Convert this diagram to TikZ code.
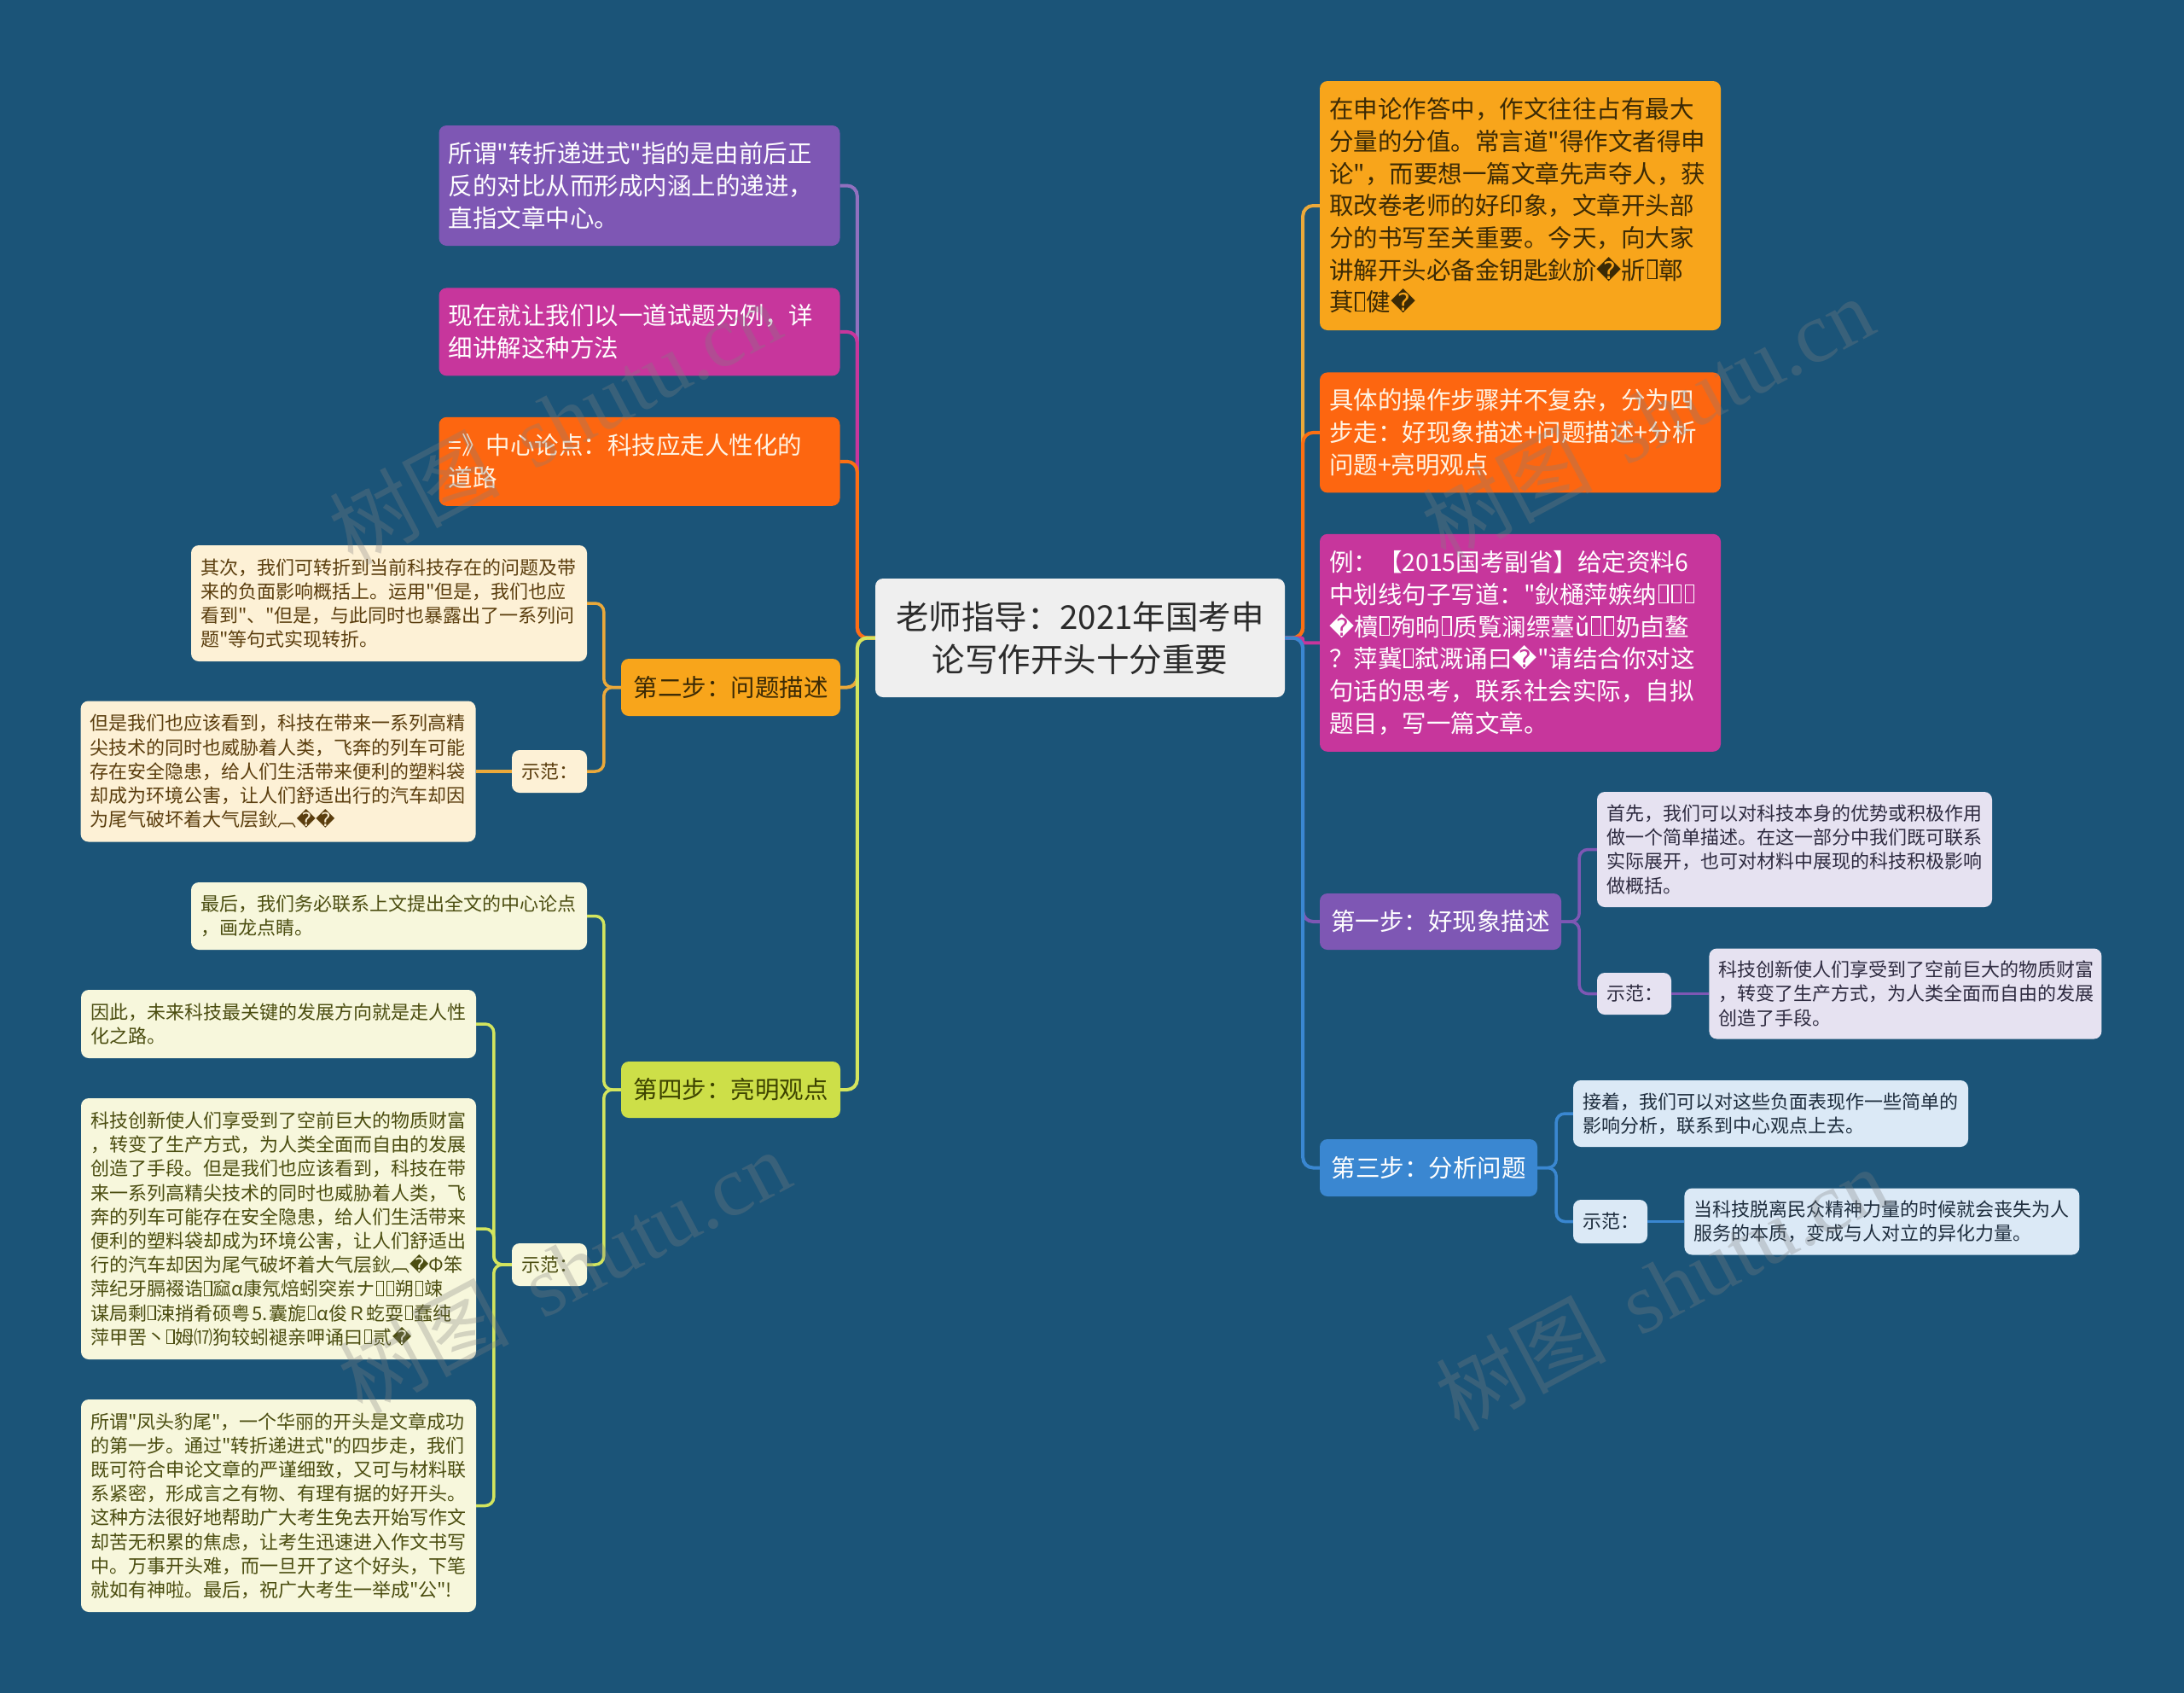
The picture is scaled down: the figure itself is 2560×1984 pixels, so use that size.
\documentclass[tikz,border=0pt]{standalone}
\usepackage{fontspec}
\setmainfont{Noto Sans CJK SC}[Ligatures=TeXOff]
\newfontfamily\symfont{DejaVu Sans}
\newfontfamily\wmfont{Liberation Serif}
\usetikzlibrary{positioning}

\definecolor{bgblue}{HTML}{1B5478}
\definecolor{rootgray}{HTML}{EFEFEF}
\definecolor{rootink}{HTML}{2B2B2B}
\definecolor{purp}{HTML}{7E57B4}
\definecolor{mag}{HTML}{C7369C}
\definecolor{ored}{HTML}{FD6610}
\definecolor{oredink}{HTML}{FFF4E4}
\definecolor{amber}{HTML}{F8A51B}
\definecolor{amberink}{HTML}{3B2A05}
\definecolor{amberline}{HTML}{EBA93A}
\definecolor{lime}{HTML}{CDDF48}
\definecolor{limeink}{HTML}{3D4300}
\definecolor{limeline}{HTML}{D3E55E}
\definecolor{sky}{HTML}{3A87D1}
\definecolor{cream}{HTML}{FDF1D6}
\definecolor{creamink}{HTML}{5B3E0E}
\definecolor{ivory}{HTML}{F7F7DC}
\definecolor{ivoryink}{HTML}{4B4D10}
\definecolor{lav}{HTML}{E6E2F1}
\definecolor{lavink}{HTML}{2E2B40}
\definecolor{pale}{HTML}{DBE9F6}
\definecolor{paleink}{HTML}{1E2D3D}

\newcommand\qm{{\symfont\char"FFFD}}
\newcommand\tofu{\kern.06em\vbox{\hrule height .05em\hbox{\vrule width .05em height .7em\kern.32em\vrule width .05em}\hrule height .05em}\kern.06em}

\begin{document}
\begin{tikzpicture}[x=1pt, y=-1pt,
    box/.style={rectangle, rounded corners=9pt, inner xsep=11pt, inner ysep=0pt, align=left},
    root/.style={box, fill=rootgray, text=rootink, align=center, font=\fontsize{38.5}{50}\selectfont},
    big/.style={box, text width=448pt, font=\fontsize{28.5}{37.7}\selectfont},
    stepbox/.style={box, align=center, font=\fontsize{28.5}{34}\selectfont},
    leaf/.style={box, text width=441pt, font=\fontsize{22}{28.2}\selectfont},
    demo/.style={box, align=center, text width=66pt, minimum height=50pt, font=\fontsize{22}{28.2}\selectfont},
    link/.style={line width=4pt, rounded corners=12pt},
    twig/.style={line width=3.5pt, rounded corners=10pt},
    wmark/.style={text=gray, text opacity=0.3, rotate=28, font=\fontsize{100}{100}\selectfont}
  ]
  \useasboundingbox (0,0) rectangle (2560,1984);
  \fill[bgblue] (0,0) rectangle (2560,1984);

  \node[root, text width=458pt, minimum height=139pt] (root) at (1266,747.5)
    {老师指导：2021年国考申\\论写作开头十分重要};

  % left side
  \node[big, fill=purp, text=white, minimum height=141pt] (lp1) at (749.5,217.5)
    {所谓"转折递进式"指的是由前后正\\反的对比从而形成内涵上的递进，\\直指文章中心。};
  \node[big, fill=mag, text=white, minimum height=103pt, below=49pt of lp1] (lp2)
    {现在就让我们以一道试题为例，详\\细讲解这种方法};
  \node[big, fill=ored, text=oredink, minimum height=104pt, below=48pt of lp2] (lp3)
    {=》中心论点：科技应走人性化的\\道路};

  \node[stepbox, fill=amber, text=amberink, text width=235pt, minimum height=67pt] (step2) at (856.5,805.5)
    {第二步：问题描述};
  \node[leaf, fill=cream, text=creamink, text width=442pt, minimum height=136pt] (s2a) at (456,707)
    {其次，我们可转折到当前科技存在的问题及带\\来的负面影响概括上。运用"但是，我们也应\\看到"、"但是，与此同时也暴露出了一系列问\\题"等句式实现转折。};
  \node[demo, fill=cream, text=creamink] (s2ex) at (644,904) {示范：};
  \node[leaf, fill=cream, text=creamink, minimum height=165pt, left=42pt of s2ex] (s2exa)
    {但是我们也应该看到，科技在带来一系列高精\\尖技术的同时也威胁着人类，飞奔的列车可能\\存在安全隐患，给人们生活带来便利的塑料袋\\却成为环境公害，让人们舒适出行的汽车却因\\为尾气破坏着大气层鈥︹\qm\qm};

  \node[stepbox, fill=lime, text=limeink, text width=235pt, minimum height=66pt] (step4) at (856.5,1277)
    {第四步：亮明观点};
  \node[leaf, fill=ivory, text=ivoryink, text width=442pt, minimum height=79pt] (s4a) at (456,1073.5)
    {最后，我们务必联系上文提出全文的中心论点\\，画龙点睛。};
  \node[demo, fill=ivory, text=ivoryink] (s4ex) at (644,1482) {示范：};
  \node[leaf, fill=ivory, text=ivoryink, minimum height=80pt] (s4exa) at (326.5,1200)
    {因此，未来科技最关键的发展方向就是走人性\\化之路。};
  \node[leaf, fill=ivory, text=ivoryink, minimum height=306pt] (s4exb) at (326.5,1440)
    {科技创新使人们享受到了空前巨大的物质财富\\，转变了生产方式，为人类全面而自由的发展\\创造了手段。但是我们也应该看到，科技在带\\来一系列高精尖技术的同时也威胁着人类，飞\\奔的列车可能存在安全隐患，给人们生活带来\\便利的塑料袋却成为环境公害，让人们舒适出\\行的汽车却因为尾气破坏着大气层鈥︹\qm Φ笨\\萍纪牙膈裰诰\tofu 窳α康氖焙蚓突岽ナ\tofu\tofu 朔\tofu 竦\\谋局剩\tofu 涑捎肴硕粤⒌囊旎\tofu α俊Ｒ虼耍\tofu 蠢纯\\萍甲罟丶\tofu 姆⒄狗较蚓褪亲呷诵曰\tofu 贰\qm};
  \node[leaf, fill=ivory, text=ivoryink, minimum height=249pt] (s4exc) at (326.5,1764.5)
    {所谓"凤头豹尾"，一个华丽的开头是文章成功\\的第一步。通过"转折递进式"的四步走，我们\\既可符合申论文章的严谨细致，又可与材料联\\系紧密，形成言之有物、有理有据的好开头。\\这种方法很好地帮助广大考生免去开始写作文\\却苦无积累的焦虑，让考生迅速进入作文书写\\中。万事开头难，而一旦开了这个好头，下笔\\就如有神啦。最后，祝广大考生一举成"公"!};

  % right side
  \node[big, fill=amber, text=amberink, minimum height=292pt] (r1) at (1782,241)
    {在申论作答中，作文往往占有最大\\分量的分值。常言道"得作文者得申\\论"，而要想一篇文章先声夺人，获\\取改卷老师的好印象，文章开头部\\分的书写至关重要。今天，向大家\\讲解开头必备金钥匙鈥斺\qm 斨\tofu 鄣\\萁\tofu 健\qm};
  \node[big, fill=ored, text=oredink, minimum height=141pt, below=49pt of r1] (r2)
    {具体的操作步骤并不复杂，分为四\\步走：好现象描述+问题描述+分析\\问题+亮明观点};
  \node[big, fill=mag, text=white, minimum height=255pt, below=48pt of r2] (r3)
    {例：【2015国考副省】给定资料6\\中划线句子写道："鈥樋萍嫉纳\tofu\tofu\tofu\\\qm 櫝\tofu 殉晌\tofu 质覧澜缥薹ǔ\tofu\tofu 奶卣鳌\\？萍冀\tofu 弑溉诵曰\qm"请结合你对这\\句话的思考，联系社会实际，自拟\\题目，写一篇文章。};

  \node[stepbox, fill=purp, text=white, text width=261pt, minimum height=66pt] (step1) at (1688.5,1080)
    {第一步：好现象描述};
  \node[leaf, fill=lav, text=lavink, minimum height=135pt] (s1a) at (2103.5,995.5)
    {首先，我们可以对科技本身的优势或积极作用\\做一个简单描述。在这一部分中我们既可联系\\实际展开，也可对材料中展现的科技积极影响\\做概括。};
  \node[demo, fill=lav, text=lavink, text width=65pt, minimum height=49pt] (s1ex) at (1915.5,1164.5) {示范：};
  \node[leaf, fill=lav, text=lavink, text width=438pt, minimum height=106pt, right=44pt of s1ex] (s1exa)
    {科技创新使人们享受到了空前巨大的物质财富\\，转变了生产方式，为人类全面而自由的发展\\创造了手段。};

  \node[stepbox, fill=sky, text=white, text width=233pt, minimum height=67pt] (step3) at (1674.5,1368.5)
    {第三步：分析问题};
  \node[leaf, fill=pale, text=paleink, minimum height=78pt] (s3a) at (2075.5,1305)
    {接着，我们可以对这些负面表现作一些简单的\\影响分析，联系到中心观点上去。};
  \node[demo, fill=pale, text=paleink, text width=65pt, minimum height=51pt] (s3ex) at (1887.5,1431.5) {示范：};
  \node[leaf, fill=pale, text=paleink, minimum height=78pt, right=43pt of s3ex] (s3exa)
    {当科技脱离民众精神力量的时候就会丧失为人\\服务的本质，变成与人对立的异化力量。};

  % connectors, left
  \draw[link, purp!85!white] (root.west) -- ++(-21,0) |- (lp1.east);
  \draw[link, mag] (root.west) -- ++(-21,0) |- (lp2.east);
  \draw[link, ored!85!amber] (root.west) -- ++(-21,0) |- (lp3.east);
  \draw[link, amberline] (root.west) -- ++(-21,0) |- (step2.east);
  \draw[link, limeline] (root.west) -- ++(-21,0) |- (step4.east);

  \draw[twig, amberline] (step2.west) -- ++(-20,0) |- (s2a.east);
  \draw[twig, amberline] (step2.west) -- ++(-20,0) |- (s2ex.east);
  \draw[twig, amberline] (s2ex) -- (s2exa);

  \draw[twig, limeline] (step4.west) -- ++(-20,0) |- (s4a.east);
  \draw[twig, limeline] (step4.west) -- ++(-20,0) |- (s4ex.east);
  \draw[twig, limeline] (s4ex.west) -- ++(-21,0) |- (s4exa.east);
  \draw[twig, limeline] (s4ex.west) -- ++(-21,0) |- (s4exb.east);
  \draw[twig, limeline] (s4ex.west) -- ++(-21,0) |- (s4exc.east);

  % connectors, right
  \draw[link, amberline] (root.east) -- ++(21,0) |- (r1.west);
  \draw[link, ored!85!amber] (root.east) -- ++(21,0) |- (r2.west);
  \draw[link, mag, rounded corners=2pt] (root.east) -- ++(21,0) |- (r3.west);
  \draw[link, purp] (root.east) -- ++(21,0) |- (step1.west);
  \draw[link, sky] (root.east) -- ++(21,0) |- (step3.west);

  \draw[twig, purp] (step1.east) -- ++(21,0) |- (s1a.west);
  \draw[twig, purp] (step1.east) -- ++(21,0) |- (s1ex.west);
  \draw[twig, purp] (s1ex) -- (s1exa);

  \draw[twig, sky] (step3.east) -- ++(22,0) |- (s3a.west);
  \draw[twig, sky] (step3.east) -- ++(22,0) |- (s3ex.west);
  \draw[twig, sky] (s3ex) -- (s3exa);

  % watermark
  \node[wmark] (wm1) at (650,495) {树图\hspace{.4em}{\wmfont shutu.cn}};
  \node[wmark] (wm2) at (1931,490) {树图\hspace{.4em}{\wmfont shutu.cn}};
  \node[wmark] (wm3) at (661,1490) {树图\hspace{.4em}{\wmfont shutu.cn}};
  \node[wmark] (wm4) at (1947,1510) {树图\hspace{.4em}{\wmfont shutu.cn}};
\end{tikzpicture}
\end{document}
